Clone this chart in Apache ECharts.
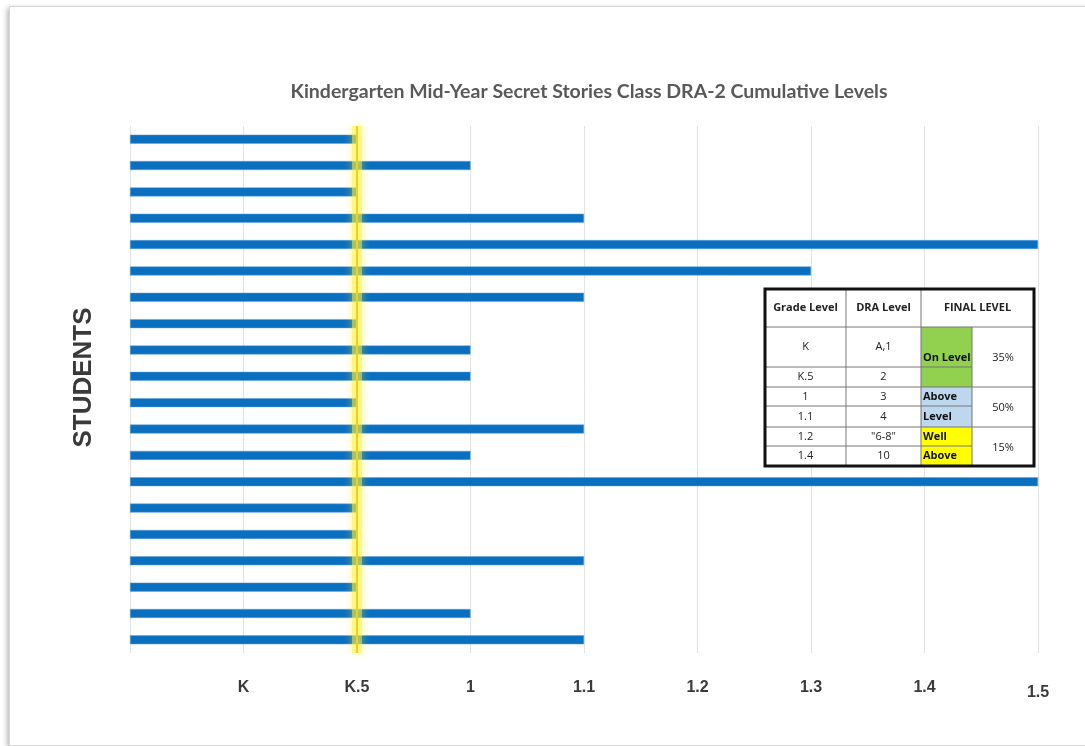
<!DOCTYPE html>
<html>
<head>
<meta charset="utf-8">
<style>
  html, body { margin: 0; padding: 0; background: #fff; }
  #frame {
    position: absolute; left: 9px; top: 6px; width: 1100px; height: 738px;
    border: 1px solid #d6d6d6; box-shadow: -2px 2px 5px rgba(0, 0, 0, 0.28);
    background: #fff;
  }
  #main { position: absolute; left: 0; top: 0; width: 1085px; height: 746px; }
</style>
<script src="https://cdn.jsdelivr.net/npm/echarts@6/dist/echarts.min.js"></script>
</head>
<body>
<div id="frame"></div>
<div id="main"></div>
<script>
// students top to bottom (not labelled on the chart)
var students = ['S1', 'S2', 'S3', 'S4', 'S5', 'S6', 'S7', 'S8', 'S9', 'S10',
  'S11', 'S12', 'S13', 'S14', 'S15', 'S16', 'S17', 'S18', 'S19', 'S20']
// level index: 1 = K, 2 = K.5, 3 = 1, 4 = 1.1, 5 = 1.2, 6 = 1.3, 7 = 1.4, 8 = 1.5
var levels = [2, 3, 2, 4, 8, 6, 4, 2, 3, 3, 2, 4, 3, 8, 2, 2, 4, 2, 3, 4]
var tickLabels = ['', 'K', 'K.5', '1', '1.1', '1.2', '1.3', '1.4', '1.5']
var benchmark = 2 // K.5

// legend table on the right
var tableHeader = ['Grade Level', 'DRA Level', 'FINAL LEVEL']
var gradeLevels = ['K', 'K.5', '1', '1.1', '1.2', '1.4']
var draLevels = ['A,1', '2', '3', '4', '"6-8"', '10']
var finalLabels = ['', 'On Level', 'Above', 'Level', 'Well', 'Above']
var finalGroups = [
  { from: 0, to: 2, pct: '35%', color: '#92d050' },
  { from: 2, to: 4, pct: '50%', color: '#bdd7ee' },
  { from: 4, to: 6, pct: '15%', color: '#ffff00' }
]

var colX = [765, 846, 921, 972, 1034]
var rowY = [289, 327, 367, 387, 406, 427, 446, 466]
var tableFont = '"Open Sans", "Liberation Sans", sans-serif'

function buildTable() {
  var els = []
  var z = 100
  els.push({
    type: 'rect', z: z,
    shape: { x: colX[0], y: rowY[0], width: colX[4] - colX[0], height: rowY[7] - rowY[0] },
    style: { fill: '#fff' }
  })
  // coloured blocks of the final level column
  finalGroups.forEach(function(g) {
    els.push({
      type: 'rect', z: z + 1,
      shape: { x: colX[2], y: rowY[g.from + 1], width: colX[3] - colX[2], height: rowY[g.to + 1] - rowY[g.from + 1] },
      style: { fill: g.color }
    })
    els.push({
      type: 'text', z: z + 3,
      x: (colX[3] + colX[4]) / 2,
      y: (rowY[g.from + 1] + rowY[g.to + 1]) / 2 + 1,
      style: { text: g.pct, fill: '#222', font: '11px ' + tableFont, align: 'center', verticalAlign: 'middle' }
    })
  })
  // grid lines
  var line = function(x1, y1, x2, y2, c, w) {
    els.push({
      type: 'line', z: z + 2,
      shape: { x1: x1, y1: y1, x2: x2, y2: y2 },
      style: { stroke: c, lineWidth: w }
    })
  }
  line(colX[0], rowY[1], colX[4], rowY[1], '#777', 1)
  for (var r = 2; r < 7; r++) {
    line(colX[0], rowY[r], colX[3], rowY[r], '#777', 1)
  }
  line(colX[3], rowY[3], colX[4], rowY[3], '#777', 1)
  line(colX[3], rowY[5], colX[4], rowY[5], '#777', 1)
  line(colX[1], rowY[0], colX[1], rowY[7], '#777', 1)
  line(colX[2], rowY[0], colX[2], rowY[7], '#777', 1)
  line(colX[3], rowY[1], colX[3], rowY[7], '#777', 1)
  els.push({
    type: 'rect', z: z + 4,
    shape: { x: colX[0], y: rowY[0], width: colX[4] - colX[0], height: rowY[7] - rowY[0] },
    style: { fill: null, stroke: '#111', lineWidth: 3 }
  })
  // header
  var headX = [(colX[0] + colX[1]) / 2, (colX[1] + colX[2]) / 2, (colX[2] + colX[4]) / 2]
  tableHeader.forEach(function(t, i) {
    els.push({
      type: 'text', z: z + 3, x: headX[i], y: (rowY[0] + rowY[1]) / 2,
      style: { text: t, fill: '#222', font: 'bold 11px ' + tableFont, align: 'center', verticalAlign: 'middle' }
    })
  })
  // body
  for (var i = 0; i < gradeLevels.length; i++) {
    var cy = (rowY[i + 1] + rowY[i + 2]) / 2
    els.push({
      type: 'text', z: z + 3, x: (colX[0] + colX[1]) / 2, y: cy,
      style: { text: gradeLevels[i], fill: '#222', font: '11px ' + tableFont, align: 'center', verticalAlign: 'middle' }
    })
    els.push({
      type: 'text', z: z + 3, x: (colX[1] + colX[2]) / 2, y: cy,
      style: { text: draLevels[i], fill: '#222', font: '11px ' + tableFont, align: 'center', verticalAlign: 'middle' }
    })
    var fy = i === 1 ? rowY[2] - 9 : cy
    if (finalLabels[i]) {
      els.push({
        type: 'text', z: z + 3, x: colX[2] + 2, y: fy,
        style: { text: finalLabels[i], fill: '#111', font: 'bold 11px ' + tableFont, align: 'left', verticalAlign: 'middle' }
      })
    }
  }
  return els
}

var chart = echarts.init(document.getElementById('main'))
chart.setOption({
  backgroundColor: 'transparent',
  animation: false,
  title: {
    text: 'Kindergarten Mid-Year Secret Stories Class DRA-2 Cumulative Levels',
    left: 584,
    top: 77,
    textAlign: 'center',
    textStyle: {
      color: '#595959',
      fontFamily: 'Lato, "Open Sans", sans-serif',
      fontWeight: 'bold',
      fontSize: 19.5
    }
  },
  grid: {
    left: 130,
    right: 47,
    top: 126,
    bottom: 93
  },
  xAxis: {
    type: 'value',
    min: 0,
    max: 8,
    interval: 1,
    axisLine: { show: false },
    axisTick: { show: false },
    splitLine: { show: true, lineStyle: { color: '#e3e3e3', width: 1 } },
    axisLabel: {
      margin: 27,
      color: '#3a3a3a',
      fontFamily: '"Liberation Sans", Arial, sans-serif',
      fontWeight: 'bold',
      fontSize: 16,
      formatter: function(v) {
        var t = tickLabels[v] || ''
        return v === 8 ? '{low|' + t + '}' : t
      },
      rich: {
        low: {
          color: '#3a3a3a',
          fontFamily: '"Liberation Sans", Arial, sans-serif',
          fontWeight: 'bold',
          fontSize: 16,
          padding: [5, 0, 0, 0]
        }
      }
    }
  },
  yAxis: {
    type: 'category',
    data: students,
    inverse: true,
    name: 'STUDENTS',
    nameLocation: 'middle',
    nameRotate: 90,
    nameGap: 33,
    nameTextStyle: {
      color: '#3a3a3a',
      fontFamily: '"Liberation Sans", Arial, sans-serif',
      fontWeight: 'bold',
      fontSize: 26,
      padding: [0, 0, 0, 24]
    },
    axisLine: { show: false },
    axisTick: { show: false },
    axisLabel: { show: false },
    splitLine: { show: false }
  },
  series: [
    {
      type: 'bar',
      data: levels,
      barWidth: 9,
      itemStyle: { color: '#0b6fc0', borderColor: '#5da3dc', borderWidth: 0.5 },
      markLine: {
        silent: true,
        symbol: 'none',
        label: { show: false },
        z: 10,
        data: [
          { xAxis: benchmark, lineStyle: { color: 'rgba(255, 244, 60, 0.5)', width: 10, type: 'solid', shadowBlur: 8, shadowColor: 'rgba(255, 240, 0, 0.8)' } },
          { xAxis: benchmark, lineStyle: { color: '#f1cd2a', width: 2, type: 'solid' } }
        ]
      }
    }
  ],
  graphic: buildTable()
})
</script>
</body>
</html>
